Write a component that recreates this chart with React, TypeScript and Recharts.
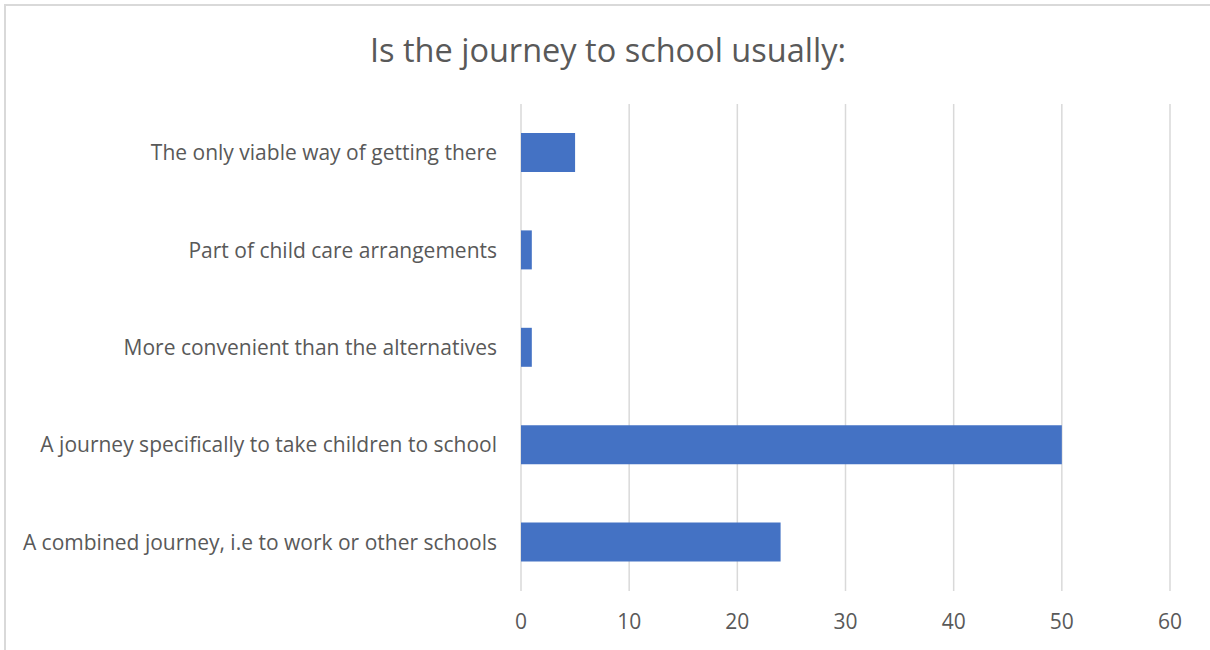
import React from 'react';
import { BarChart, Bar, XAxis, YAxis, CartesianGrid } from 'recharts';

const categories = [
  'The only viable way of getting there',
  'Part of child care arrangements',
  'More convenient than the alternatives',
  'A journey specifically to take children to school',
  'A combined journey, i.e to work or other schools',
];
const counts = [5, 1, 1, 50, 24];
const xTicks = [0, 10, 20, 30, 40, 50, 60];

const chartData = categories.map((name, i) => ({ name, value: counts[i] }));

const FONT = '"Open Sans", sans-serif';
const TEXT = '#595959';

export default function App() {
  return (
    <div
      style={{
        position: 'absolute',
        top: 0,
        left: 0,
        width: 1210,
        height: 650,
        overflow: 'hidden',
        background: '#fff',
        fontFamily: FONT,
      }}
    >
      <div
        style={{
          position: 'absolute',
          left: 4,
          top: 4,
          width: 1240,
          height: 680,
          border: '2px solid #d9d9d9',
        }}
      />
      <div
        style={{
          position: 'absolute',
          left: 0,
          width: 1216,
          top: 26,
          textAlign: 'center',
          fontSize: 32.5,
          lineHeight: '48px',
          color: TEXT,
        }}
      >
        Is the journey to school usually:
      </div>
      <div style={{ position: 'absolute', left: 0, top: 0 }}>
        <BarChart
          layout="vertical"
          width={1210}
          height={650}
          data={chartData}
          margin={{ top: 104, right: 40, bottom: 0, left: 0 }}
        >
          <CartesianGrid horizontal={false} stroke="#d9d9d9" strokeWidth={1.5} />
          <XAxis
            type="number"
            domain={[0, 60]}
            ticks={xTicks}
            height={59}
            axisLine={false}
            tickLine={false}
            tickSize={0}
            tickMargin={23}
            tick={{ fontSize: 21, fill: TEXT, fontFamily: FONT }}
          />
          <YAxis
            type="category"
            dataKey="name"
            width={521}
            axisLine={false}
            tickLine={false}
            tickSize={0}
            tickMargin={24}
            interval={0}
            tick={{ fontSize: 21, fill: TEXT, fontFamily: FONT }}
          />
          <Bar dataKey="value" fill="#4472C4" barSize={39} isAnimationActive={false} />
        </BarChart>
      </div>
    </div>
  );
}
